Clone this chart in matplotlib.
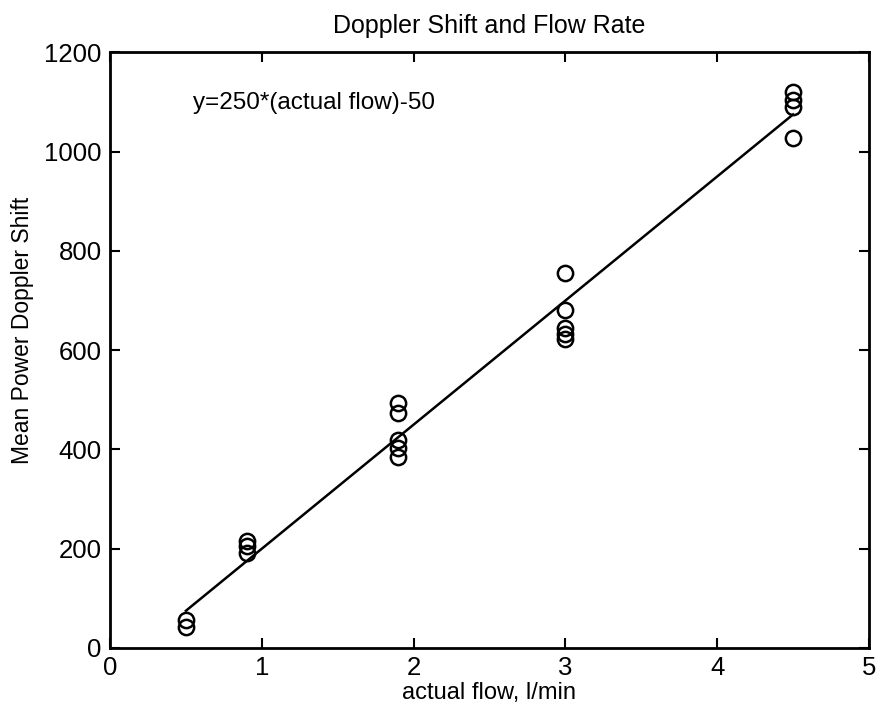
import matplotlib
matplotlib.use("Agg")
import matplotlib.pyplot as plt
import numpy as np

plt.rcParams['font.family'] = ['Liberation Sans', 'DejaVu Sans']

flow_x = [0.5, 0.5,
          0.9, 0.9, 0.9,
          1.9, 1.9, 1.9, 1.9, 1.9,
          3.0, 3.0, 3.0, 3.0, 3.0,
          4.5, 4.5, 4.5, 4.5]
doppler_y = [56, 42,
             216, 206, 192,
             494, 474, 419, 403, 385,
             756, 680, 645, 633, 622,
             1120, 1105, 1090, 1028]
fit_x = [0.5, 4.5]
slope, intercept = 250, -50
xticks = [0, 1, 2, 3, 4, 5]
yticks = [0, 200, 400, 600, 800, 1000, 1200]

fig = plt.figure(figsize=(8.78, 7.18), dpi=100)
ax = fig.add_axes([0.1253, 0.0975, 0.8644, 0.8295])

ax.plot(flow_x, doppler_y, 'o', mfc='none', mec='black', ms=11, mew=1.8)
fx = np.array(fit_x)
ax.plot(fx, slope * fx + intercept, '-', color='black', lw=1.8)

ax.set_xlim(0, 5)
ax.set_ylim(0, 1200)
ax.set_xticks(xticks)
ax.set_yticks(yticks)
ax.tick_params(direction='in', top=True, right=True, length=7, width=1.5,
               labelsize=18.5, pad=6)
for s in ax.spines.values():
    s.set_linewidth(2)

ax.text(0.55, 1099, 'y=250*(actual flow)-50', fontsize=17.5, va='center', ha='left')
ax.set_title('Doppler Shift and Flow Rate', fontsize=18, pad=14)
ax.set_xlabel('actual flow, l/min', fontsize=17, labelpad=1)
ax.set_ylabel('Mean Power Doppler Shift', fontsize=16.5, labelpad=8)
ax.yaxis.set_label_coords(-0.1, 0.534)

fig.savefig('out.png', dpi=100)
